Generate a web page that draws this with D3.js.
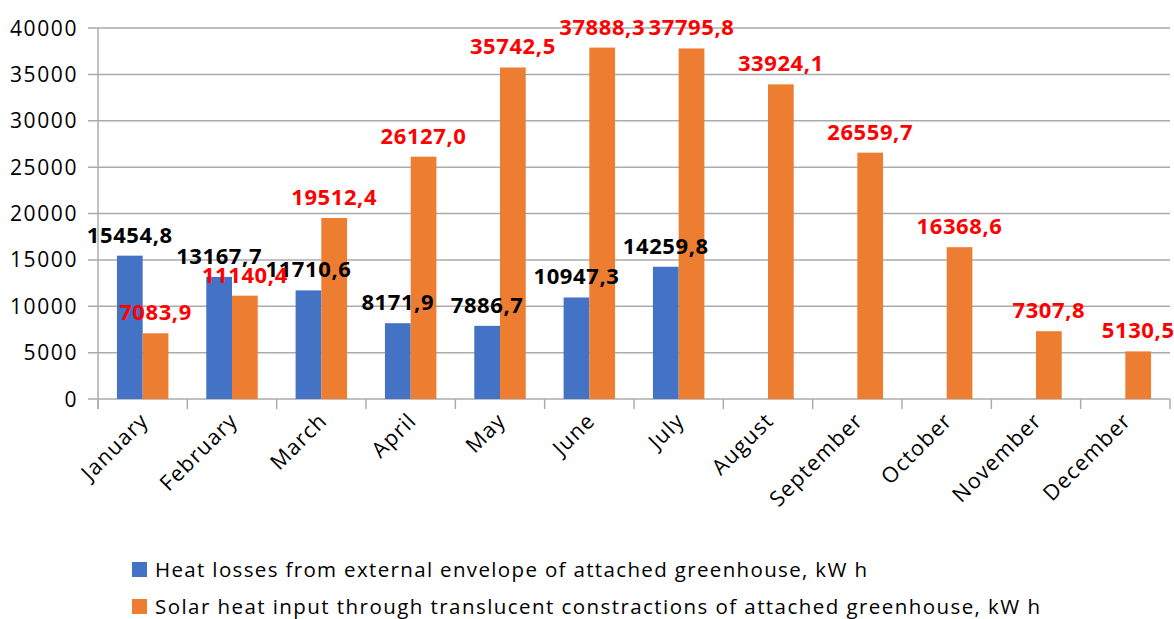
<!DOCTYPE html>
<html>
<head>
<meta charset="utf-8">
<script src="https://cdn.jsdelivr.net/npm/d3@7"></script>
<style>
  html, body { margin: 0; padding: 0; background: #fff; }
  svg { display: block; }
</style>
</head>
<body>
<svg id="chart" width="1174" height="619"></svg>
<script>
const months = ["January","February","March","April","May","June","July","August","September","October","November","December"];
const heatLosses = [15454.8, 13167.7, 11710.6, 8171.9, 7886.7, 10947.3, 14259.8, null, null, null, null, null];
const solarInput = [7083.9, 11140.4, 19512.4, 26127.0, 35742.5, 37888.3, 37795.8, 33924.1, 26559.7, 16368.6, 7307.8, 5130.5];
const yTicks = [0, 5000, 10000, 15000, 20000, 25000, 30000, 35000, 40000];
const seriesNames = [
  "Heat losses from external envelope of attached greenhouse, kW h",
  "Solar heat input  through translucent constractions of attached greenhouse, kW h"
];
const seriesColors = ["#4472C4", "#ED7D31"];
const labelColors = ["#000000", "#FF0000"];

(function () {
const svg = d3.select("#chart");
const pLeft = 98, pRight = 1170, pTop = 28, pBottom = 399;
const font = "'Open Sans', 'DejaVu Sans', sans-serif";
const gridColor = "#ababab";

const y = d3.scaleLinear().domain([0, 40000]).range([pBottom, pTop]);
const x0 = d3.scaleBand().domain(months).range([pLeft, pRight]).padding(0);
const bw = x0.bandwidth();
const x1 = d3.scaleBand().domain([0, 1]).range([bw * 0.212, bw * 0.788]).padding(0);

// gridlines
svg.append("g").selectAll("line").data(yTicks).join("line")
  .attr("x1", pLeft - 10).attr("x2", pRight)
  .attr("y1", d => y(d)).attr("y2", d => y(d))
  .attr("stroke", gridColor).attr("stroke-width", 1.5);

// y tick labels
svg.append("g").selectAll("text").data(yTicks).join("text")
  .attr("x", 78).attr("y", d => y(d)).attr("dy", "0.36em")
  .attr("text-anchor", "end")
  .attr("font-family", font).attr("font-size", 21)
  .attr("letter-spacing", 1.6)
  .attr("fill", "#000")
  .text(d => d);

// y axis line
svg.append("line").attr("x1", pLeft).attr("x2", pLeft)
  .attr("y1", pTop).attr("y2", pBottom + 10)
  .attr("stroke", gridColor).attr("stroke-width", 1.5);

// category ticks
const tickPos = months.map(m => x0(m)).concat([pRight]);
svg.append("g").selectAll("line").data(tickPos).join("line")
  .attr("x1", d => d).attr("x2", d => d)
  .attr("y1", pBottom).attr("y2", pBottom + 10)
  .attr("stroke", gridColor).attr("stroke-width", 1.5);

// bars
const series = [heatLosses, solarInput];
series.forEach((vals, si) => {
  const g = svg.append("g");
  g.selectAll("rect").data(vals.map((v, i) => ({ v, m: months[i] })).filter(d => d.v != null))
    .join("rect")
    .attr("x", d => x0(d.m) + x1(si))
    .attr("width", x1.bandwidth())
    .attr("y", d => y(d.v))
    .attr("height", d => y(0) - y(d.v))
    .attr("fill", seriesColors[si]);
});

// value labels
const fmt = v => d3.format(".1f")(v).replace(".", ",");
series.forEach((vals, si) => {
  svg.append("g").selectAll("text")
    .data(vals.map((v, i) => ({ v, m: months[i] })).filter(d => d.v != null))
    .join("text")
    .attr("x", d => x0(d.m) + x1(si) + x1.bandwidth() / 2)
    .attr("y", d => y(d.v) - 13)
    .attr("text-anchor", "middle")
    .attr("font-family", font).attr("font-size", 22).attr("font-weight", "bold")
    .attr("letter-spacing", 0.6)
    .attr("fill", labelColors[si])
    .text(d => fmt(d.v));
});

// x labels
svg.append("g").selectAll("text").data(months).join("text")
  .attr("transform", m => `translate(${x0(m) + bw / 2 + 7},${pBottom + 23}) rotate(-45)`)
  .attr("text-anchor", "end")
  .attr("font-family", font).attr("font-size", 21.5)
  .attr("letter-spacing", 1.2)
  .attr("fill", "#000")
  .text(m => m);

// legend
const legendY = [577, 614];
const legendEnd = [867, 1040];
seriesNames.forEach((name, i) => {
  svg.append("rect").attr("x", 132).attr("y", legendY[i] - 15)
    .attr("width", 15).attr("height", 15).attr("fill", seriesColors[i]);
  svg.append("text").attr("x", 155).attr("y", legendY[i])
    .attr("font-family", font).attr("font-size", 20.5)
    .attr("fill", "#000")
    .attr("textLength", legendEnd[i] - 155).attr("lengthAdjust", "spacing")
    .text(name);
});
})();
</script>
</body>
</html>
